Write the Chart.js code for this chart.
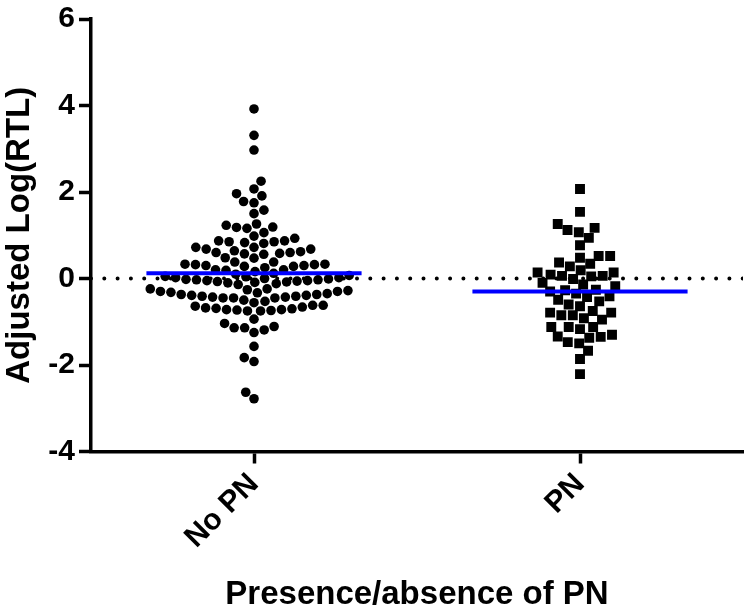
<!DOCTYPE html>
<html>
<head>
<meta charset="utf-8">
<script src="https://cdn.jsdelivr.net/npm/chart.js@4/dist/chart.umd.min.js"></script>
<style>
  html, body { margin: 0; padding: 0; background: #fff; }
  #wrap { width: 750px; height: 615px; }
</style>
</head>
<body>
<div id="wrap"><canvas id="plot" width="750" height="615"></canvas></div>
<script>
const categories = ["No PN", "PN"];
const yTicks = [-4, -2, 0, 2, 4, 6];

// Adjusted Log(RTL), one value per subject
const noPN = [
  3.92, 3.31, 2.97, 2.25, 2.07, 1.96, 1.91, 1.78, 1.75,
  1.58, 1.50,
  1.26, 1.19, 1.16, 1.18, 1.23,
  1.06, 0.98, 0.87, 0.85, 0.83, 0.81, 0.85, 0.87, 0.93,
  0.72, 0.68, 0.64, 0.60, 0.58, 0.56, 0.47, 0.48, 0.57, 0.60, 0.62, 0.68, 0.72,
  0.38, 0.33, 0.32, 0.30, 0.28, 0.25, 0.20, 0.16, 0.19, 0.20, 0.28, 0.30, 0.32, 0.33, 0.38,
  0.10, 0.07, 0.04, 0.02, 0.00, -0.02, -0.03, -0.05, -0.06, -0.08, -0.10, -0.14, -0.12, -0.09, -0.07, -0.05, -0.03, -0.01, 0.02, 0.05, 0.12,
  -0.24, -0.26, -0.30, -0.30, -0.33, -0.37, -0.39, -0.41, -0.43, -0.45, -0.45, -0.45, -0.43, -0.41, -0.39, -0.37, -0.35, -0.32, -0.28, -0.24,
  -0.53, -0.62, -0.64, -0.68, -0.70, -0.72, -0.73, -0.75, -0.75, -0.74, -0.72, -0.69, -0.66, -0.62, -0.56, -0.50,
  -0.94, -1.14, -1.14, -1.25, -1.19, -1.11, -1.04, -1.57, -1.83, -1.92, -2.63, -2.78
];
const pn = [
  2.07, 1.54, 1.26, 1.17, 1.07, 1.12, 0.94, 0.77, 0.52, 0.37, 0.28, 0.48, 0.52, 0.34, 0.19, 0.14, 0.14, 0.09, 0.06, 0.05, 0.06, -0.01,
  -0.26, -0.30, -0.10, -0.18, -0.14, -0.41, -0.49, -0.53, -0.43, -0.35, -0.27,
  -0.60, -0.64, -0.75, -0.79, -0.85, -0.85, -0.79, -0.92, -0.95,
  -1.12, -1.12, -1.17, -1.12, -1.30, -1.35, -1.34, -1.37,
  -1.50, -1.47, -1.67, -1.86, -2.21
];
const means = [0.12, -0.30];

const FONT = "'Liberation Sans', Arial, sans-serif";

// beeswarm: place points bottom-up, each as close to the centre as it fits
function swarm(values, yScale, d) {
  const pts = values.map(v => ({ v, py: yScale.getPixelForValue(v), dx: 0 }));
  const order = pts.slice().sort((a, b) => a.v - b.v);
  const placed = [];
  let flip = 1;
  order.forEach(p => {
    const near = placed.filter(q => Math.abs(q.py - p.py) < d);
    const cands = [0];
    near.forEach(q => {
      const off = Math.sqrt(d * d - (q.py - p.py) ** 2);
      cands.push(q.dx + off, q.dx - off);
    });
    cands.sort((a, b) => (Math.abs(a) + (a * flip >= 0 ? 0 : 1e-6)) - (Math.abs(b) + (b * flip >= 0 ? 0 : 1e-6)));
    p.dx = cands.find(c => near.every(q => Math.hypot(q.dx - c, q.py - p.py) >= d - 0.01));
    flip = -flip;
    placed.push(p);
  });
  return pts.map(p => p.dx);
}

const groups = [noPN, pn];

const chart = new Chart(document.getElementById("plot"), {
  type: "scatter",
  data: {
    datasets: [
      {
        label: "mean No PN",
        data: [{ x: -0.33, y: means[0] }, { x: 0.33, y: means[0] }],
        showLine: true, borderColor: "#0000ff", borderWidth: 4, pointRadius: 0, order: 0
      },
      {
        label: "mean PN",
        data: [{ x: 0.67, y: means[1] }, { x: 1.33, y: means[1] }],
        showLine: true, borderColor: "#0000ff", borderWidth: 4, pointRadius: 0, order: 0
      },
      {
        label: "No PN",
        data: noPN.map(v => ({ x: 0, y: v })),
        pointStyle: "circle", pointRadius: 4.8, backgroundColor: "#000", borderWidth: 0, order: 1
      },
      {
        label: "PN",
        data: pn.map(v => ({ x: 1, y: v })),
        pointStyle: "rect", pointRadius: 7, backgroundColor: "#000", borderWidth: 0, order: 1
      },
      {
        label: "zero",
        data: [{ x: -0.5, y: 0 }, { x: 1.5, y: 0 }],
        showLine: true, borderColor: "#000", borderWidth: 4, borderDash: [0, 13.3],
        borderCapStyle: "round", pointRadius: 0, order: 2
      }
    ]
  },
  options: {
    responsive: false,
    animation: false,
    devicePixelRatio: 1,
    layout: { padding: { left: 0, right: 3, top: 0.5, bottom: 0 } },
    plugins: { legend: { display: false }, tooltip: { enabled: false } },
    scales: {
      x: {
        type: "linear", min: -0.5, max: 1.5,
        afterBuildTicks: s => { s.ticks = categories.map((c, i) => ({ value: i })); },
        afterFit: s => { s.height = 163.5; },
        ticks: {
          callback: v => categories[v],
          minRotation: 45, maxRotation: 45, autoSkip: false,
          color: "#000", padding: 3,
          font: { family: FONT, size: 30, weight: "bold" }
        },
        grid: { drawOnChartArea: false, drawTicks: true, tickLength: 12, tickWidth: 3.5, color: "#000" },
        border: { display: true, width: 3.5, color: "#000" },
        title: {
          display: true, text: "Presence/absence of PN", color: "#000",
          font: { family: FONT, size: 33, weight: "bold", lineHeight: 1 }, padding: { top: 0, bottom: 4 }
        }
      },
      y: {
        min: -4, max: 6,
        afterBuildTicks: s => { s.ticks = yTicks.map(v => ({ value: v })); },
        afterFit: s => { s.width = 91; },
        ticks: {
          color: "#000", padding: 4,
          font: { family: FONT, size: 30, weight: "bold", lineHeight: 1 }
        },
        grid: { drawOnChartArea: false, drawTicks: true, tickLength: 12, tickWidth: 3.5, color: "#000" },
        border: { display: true, width: 3.5, color: "#000" },
        title: {
          display: true, text: "Adjusted Log(RTL)", color: "#000",
          font: { family: FONT, size: 33, weight: "bold" }, padding: { top: 0, bottom: 0 }
        }
      }
    }
  }
});

// spread points sideways using the scales' pixel sizes
const xs = chart.scales.x, ys = chart.scales.y;
const pxPerUnit = xs.getPixelForValue(1) - xs.getPixelForValue(0);
const diam = [10.5, 11.5];
groups.forEach((vals, gi) => {
  const offs = swarm(vals, ys, diam[gi]);
  chart.data.datasets[2 + gi].data = vals.map((v, i) => ({ x: gi + offs[i] / pxPerUnit, y: v }));
});
chart.update("none");
</script>
</body>
</html>
